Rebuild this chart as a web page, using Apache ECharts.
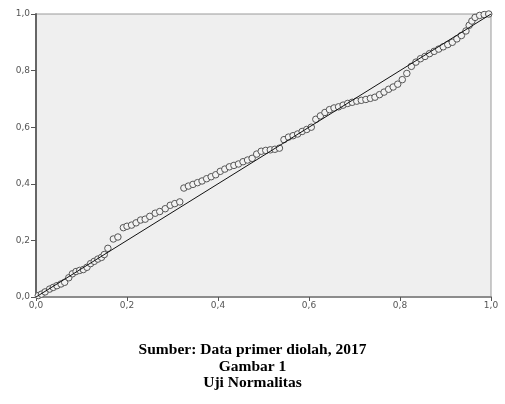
<!DOCTYPE html>
<html>
<head>
<meta charset="utf-8">
<script src="https://cdn.jsdelivr.net/npm/echarts@6/dist/echarts.min.js"></script>
<style>html,body{margin:0;padding:0;background:#fff;}#c{width:505px;height:404px;}</style>
</head>
<body>
<div id="c"></div>
<script>
// Observed cumulative probability (x) vs expected cumulative probability (y)
const observed = [0.005,0.012,0.020,0.030,0.038,0.046,0.055,0.063,0.072,0.080,0.088,0.096,0.104,0.112,0.120,0.128,0.136,0.144,0.150,0.158,0.170,0.180,0.192,0.200,0.210,0.220,0.230,0.240,0.250,0.262,0.272,0.284,0.295,0.305,0.316,0.325,0.335,0.345,0.355,0.365,0.375,0.385,0.395,0.405,0.415,0.425,0.435,0.445,0.455,0.465,0.475,0.485,0.495,0.505,0.515,0.525,0.535,0.545,0.555,0.565,0.575,0.585,0.595,0.605,0.615,0.625,0.635,0.645,0.655,0.665,0.675,0.685,0.695,0.705,0.715,0.725,0.735,0.745,0.755,0.765,0.775,0.785,0.795,0.805,0.815,0.825,0.835,0.845,0.855,0.865,0.875,0.885,0.895,0.905,0.915,0.925,0.935,0.945,0.952,0.958,0.965,0.975,0.985,0.995];
const expected = [0.005,0.010,0.018,0.028,0.034,0.040,0.046,0.052,0.068,0.082,0.090,0.094,0.097,0.105,0.118,0.126,0.134,0.140,0.150,0.172,0.205,0.212,0.245,0.250,0.254,0.262,0.272,0.275,0.285,0.296,0.302,0.312,0.324,0.330,0.336,0.385,0.392,0.398,0.404,0.410,0.418,0.425,0.432,0.444,0.452,0.460,0.465,0.470,0.478,0.484,0.490,0.505,0.515,0.518,0.520,0.522,0.526,0.556,0.565,0.570,0.576,0.585,0.592,0.600,0.628,0.640,0.652,0.662,0.668,0.672,0.678,0.684,0.688,0.692,0.695,0.698,0.702,0.706,0.715,0.724,0.734,0.742,0.752,0.768,0.790,0.815,0.830,0.842,0.850,0.860,0.868,0.876,0.884,0.892,0.900,0.912,0.924,0.940,0.960,0.975,0.988,0.995,0.998,1.0];
const refLine = [[0,0],[1,1]];
const captionLines = ['Sumber: Data primer diolah, 2017','Gambar 1','Uji Normalitas'];

const pts = observed.map((v,i)=>[v, expected[i]]);
const fmt = v => v.toFixed(1).replace('.', ',');

const chart = echarts.init(document.getElementById('c'), null, {renderer:'canvas'});
chart.setOption({
  animation:false,
  backgroundColor:'#ffffff',
  grid:{left:36,right:14,top:14,bottom:107,show:true,backgroundColor:'#efefef',borderColor:'#9a9a9a',borderWidth:1},
  xAxis:{type:'value',min:0,max:1,interval:0.2,
    axisLine:{show:true,lineStyle:{color:'#8c8c8c',width:2}},
    axisTick:{show:true,length:4,lineStyle:{color:'#555'}},
    axisLabel:{formatter:fmt,color:'#555',fontSize:9,fontFamily:'DejaVu Sans',margin:4},
    splitLine:{show:false}},
  yAxis:{type:'value',min:0,max:1,interval:0.2,
    axisLine:{show:true,lineStyle:{color:'#666',width:2}},
    axisTick:{show:true,length:5,lineStyle:{color:'#555'}},
    axisLabel:{formatter:fmt,color:'#555',fontSize:9,fontFamily:'DejaVu Sans',margin:6},
    splitLine:{show:false}},
  series:[
    {type:'line',data:refLine,symbol:'none',lineStyle:{color:'#111',width:1},z:3},
    {type:'scatter',data:pts,symbol:'circle',symbolSize:6.5,
      itemStyle:{color:'#f2f2f2',borderColor:'#555',borderWidth:1,opacity:1},z:2}
  ],
  graphic: captionLines.map((t,i)=>({type:'text',left:'center',top:342+i*16.5,
    style:{text:t,fill:'#000',font:'bold 15.5px "Liberation Serif", serif'}}))
});
</script>
</body>
</html>
